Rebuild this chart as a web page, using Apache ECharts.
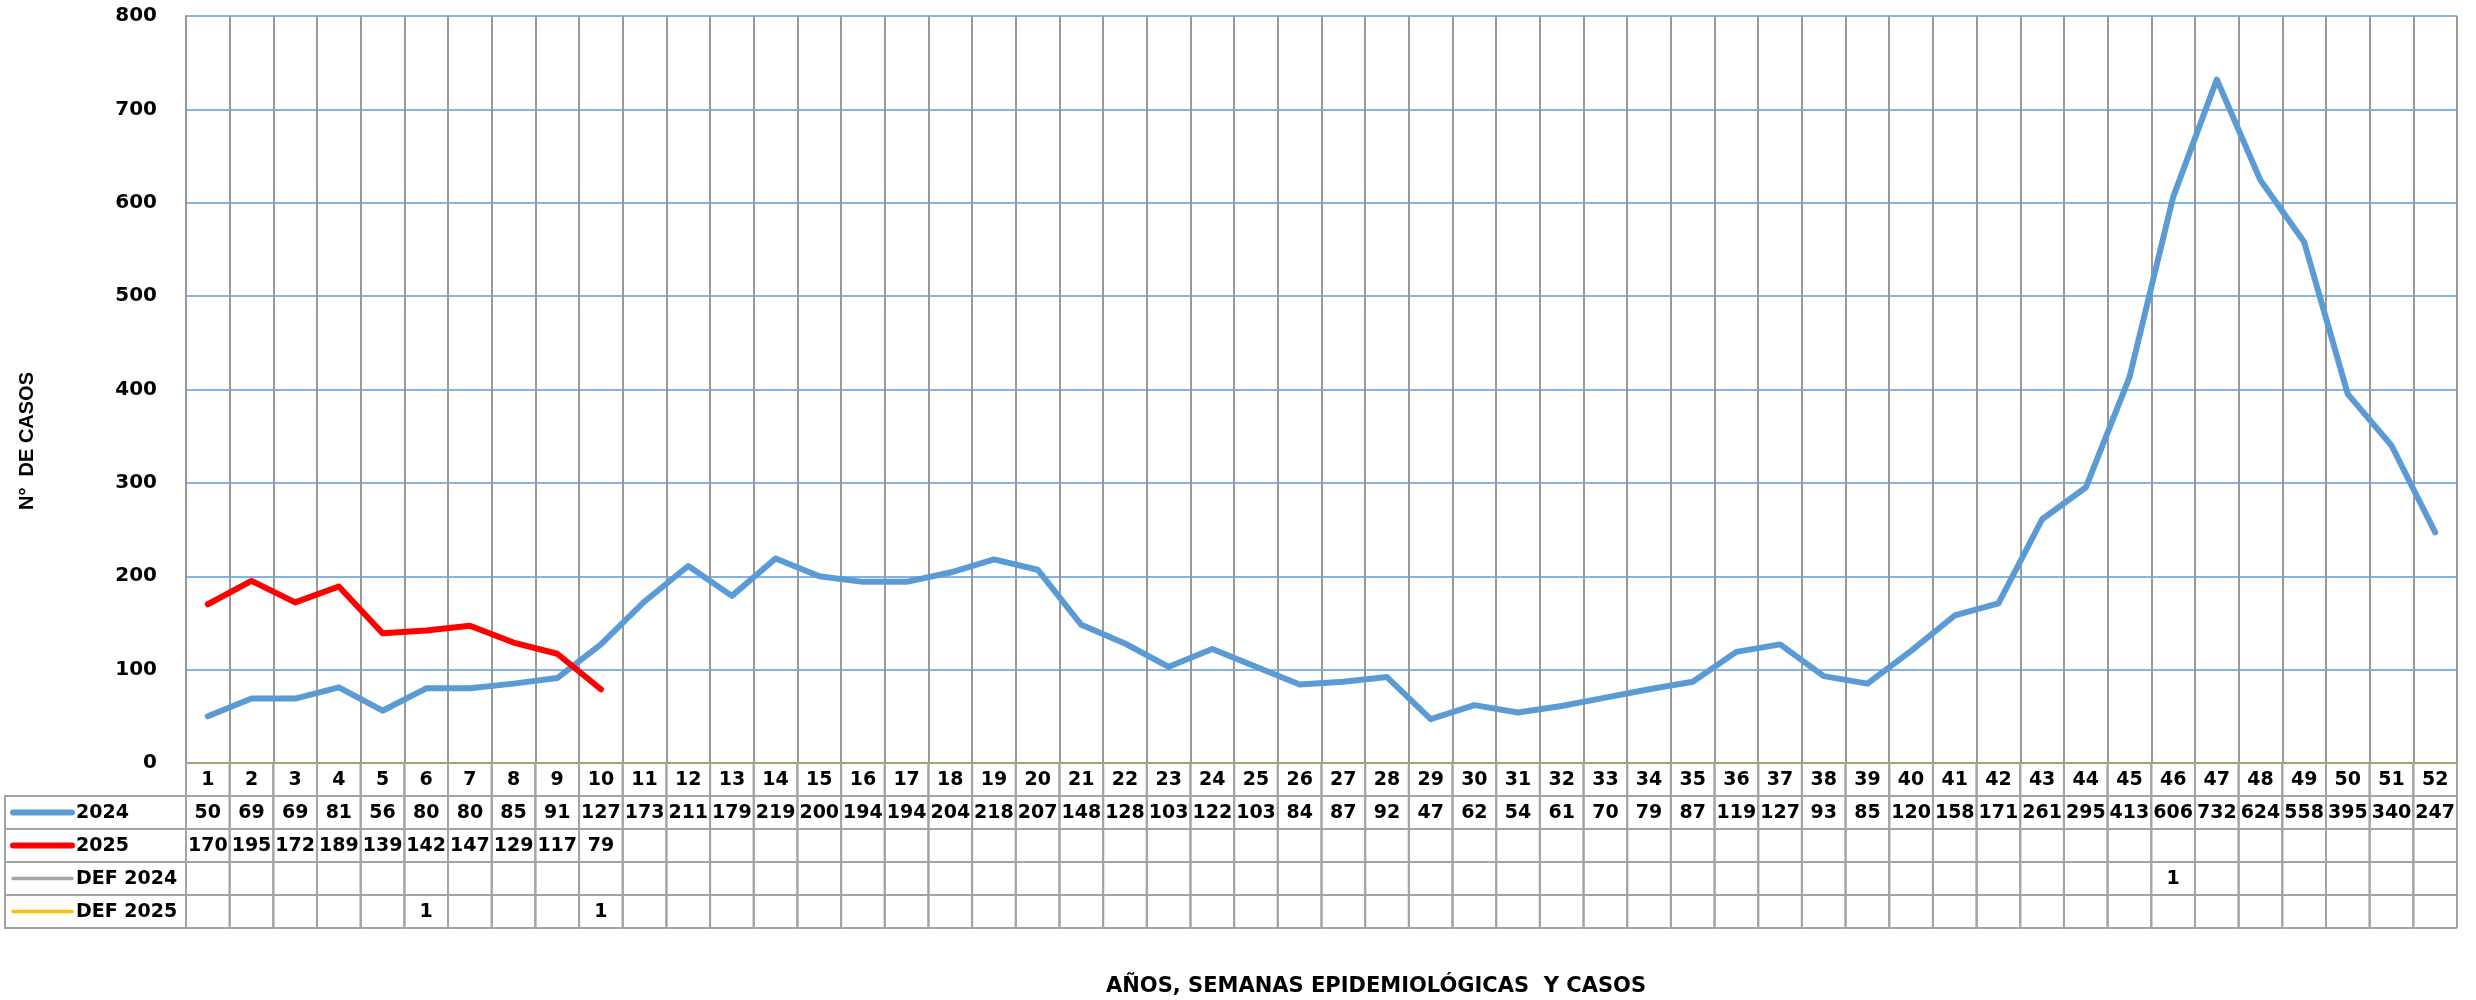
<!DOCTYPE html>
<html>
<head>
<meta charset="utf-8">
<script src="https://cdn.jsdelivr.net/npm/echarts@6/dist/echarts.min.js"></script>
<style>
  html, body { margin: 0; padding: 0; background: #fff; }
  #chart { width: 2476px; height: 1000px; }
</style>
</head>
<body>
<div id="chart"></div>
<script>
// semanas epidemiologicas
var semanas = [];
for (var k = 1; k <= 52; k++) semanas.push(String(k));

var casos2024 = [50, 69, 69, 81, 56, 80, 80, 85, 91, 127, 173, 211, 179, 219, 200, 194, 194, 204, 218, 207,
  148, 128, 103, 122, 103, 84, 87, 92, 47, 62, 54, 61, 70, 79, 87, 119, 127, 93, 85, 120,
  158, 171, 261, 295, 413, 606, 732, 624, 558, 395, 340, 247];
var casos2025 = [170, 195, 172, 189, 139, 142, 147, 129, 117, 79];
var def2024 = [null, null, null, null, null, null, null, null, null, null, null, null, null, null, null, null, null, null, null, null,
  null, null, null, null, null, null, null, null, null, null, null, null, null, null, null, null, null, null, null, null,
  null, null, null, null, null, 1, null, null, null, null, null, null];
var def2025 = [null, null, null, null, null, 1, null, null, null, 1];

var yTicks = [0, 100, 200, 300, 400, 500, 600, 700, 800];
var filas = ['', '2024', '2025', 'DEF 2024', 'DEF 2025'];
var colores = ['#5B9BD5', '#FF0000', '#A5A5A5', '#FFC000'];

var FONT = "bold 19px 'DejaVu Sans'";
var BORDE = '#A3A3A3';

// celdas de la tabla
var rowData = [semanas, casos2024, casos2025, def2024, def2025];
var celdas = [];
rowData.forEach(function (arr, r) {
  for (var i = 0; i < 52; i++) {
    var v = arr[i];
    celdas.push([i, r, v == null ? '' : String(v)]);
  }
});

function renderCelda(params, api) {
  var cell = celdas[params.dataIndex];
  var i = cell[0], r = cell[1];
  var c = api.coord([i, r]);
  var s = api.size([1, 1]);
  var w = s[0], h = s[1];
  var x0 = c[0] - w / 2, y0 = c[1] - h / 2;
  var ls = { stroke: BORDE, lineWidth: 2 };
  var children = [
    { type: 'line', shape: { x1: x0, y1: y0, x2: x0, y2: y0 + h }, style: ls },
    { type: 'line', shape: { x1: x0 + w, y1: y0, x2: x0 + w, y2: y0 + h }, style: ls },
    { type: 'line', shape: { x1: x0, y1: y0 + h, x2: x0 + w, y2: y0 + h }, style: ls },
    { type: 'text', style: { text: cell[2], x: c[0], y: c[1] + 1, align: 'center', verticalAlign: 'middle', font: FONT, fill: '#000' } }
  ];
  if (r > 0) {
    children.push({ type: 'line', shape: { x1: x0, y1: y0, x2: x0 + w, y2: y0 }, style: ls });
  }
  if (i === 0 && r > 0) {
    // columna de leyenda
    var left = 5;
    children.push({ type: 'rect', shape: { x: left, y: y0, width: x0 - left, height: h }, style: { fill: 'none', stroke: BORDE, lineWidth: 2 } });
    var grueso = r <= 2 ? 6 : 3.5;
    children.push({ type: 'line', shape: { x1: 13, y1: c[1], x2: 72, y2: c[1] }, style: { stroke: colores[r - 1], lineWidth: grueso, lineCap: 'round' } });
    children.push({ type: 'text', style: { text: filas[r], x: 76, y: c[1] + 1, align: 'left', verticalAlign: 'middle', font: FONT, fill: '#000' } });
  }
  return { type: 'group', children: children };
}

var chart = echarts.init(document.getElementById('chart'));

chart.setOption({
  animation: false,
  backgroundColor: '#fff',
  grid: [
    { left: 186, top: 16, width: 2271, height: 747 },
    { left: 186, top: 763, width: 2271, height: 165 }
  ],
  xAxis: [
    {
      type: 'category',
      gridIndex: 0,
      data: semanas,
      boundaryGap: true,
      axisTick: { show: false },
      axisLabel: { show: false },
      axisLine: { lineStyle: { color: '#A99F74', width: 2 } },
      splitLine: { show: true, lineStyle: { color: '#999999', width: 2 } }
    },
    {
      type: 'category',
      gridIndex: 1,
      data: semanas,
      show: false
    }
  ],
  yAxis: [
    {
      type: 'value',
      gridIndex: 0,
      min: yTicks[0],
      max: yTicks[yTicks.length - 1],
      interval: 100,
      axisLine: { show: true, lineStyle: { color: '#999999', width: 2 } },
      axisTick: { show: false },
      axisLabel: { margin: 29, color: '#000', fontFamily: 'DejaVu Sans', fontWeight: 'bold', fontSize: 20 },
      splitLine: { lineStyle: { color: '#5B9BD5', width: 1.5 } }
    },
    {
      type: 'category',
      gridIndex: 1,
      data: filas,
      inverse: true,
      show: false
    }
  ],
  series: [
    {
      name: '2024', type: 'line', data: casos2024, showSymbol: false, color: colores[0],
      lineStyle: { width: 6, cap: 'round', join: 'round' }, z: 4
    },
    {
      name: '2025', type: 'line', data: casos2025, showSymbol: false, color: colores[1],
      lineStyle: { width: 6, cap: 'round', join: 'round' }, z: 5
    },
    {
      name: 'DEF 2024', type: 'line', data: def2024, showSymbol: false, color: colores[2],
      lineStyle: { width: 3 }
    },
    {
      name: 'DEF 2025', type: 'line', data: def2025, showSymbol: false, color: colores[3],
      lineStyle: { width: 3 }
    },
    {
      type: 'custom',
      xAxisIndex: 1,
      yAxisIndex: 1,
      clip: false,
      silent: true,
      data: celdas.map(function (c) { return [c[0], c[1]]; }),
      renderItem: renderCelda
    }
  ],
  graphic: [
    {
      type: 'text', x: 27, y: 441, rotation: Math.PI / 2,
      style: { text: 'N°  DE CASOS', align: 'center', verticalAlign: 'middle', font: "bold 20px 'Liberation Sans'", fill: '#000' }
    },
    {
      type: 'text', x: 1376, y: 987,
      style: { text: 'AÑOS, SEMANAS EPIDEMIOLÓGICAS  Y CASOS', align: 'center', verticalAlign: 'middle', font: "bold 21px 'DejaVu Sans'", fill: '#000' }
    }
  ]
});
</script>
</body>
</html>
